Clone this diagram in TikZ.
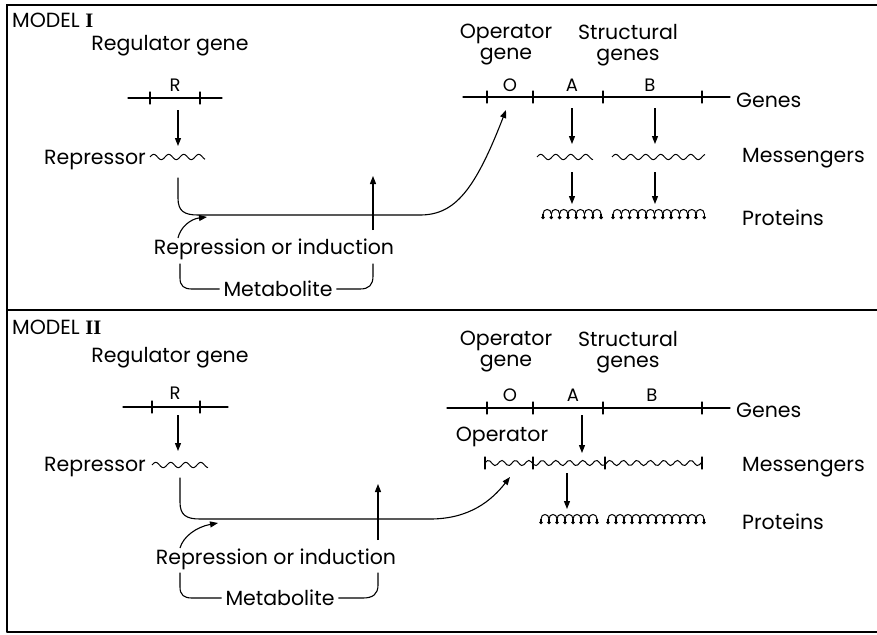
\documentclass[tikz,border=0pt]{standalone}
\usepackage{fontspec}
\setmainfont{Poppins}
\newfontfamily\romfont{Liberation Serif}
\usetikzlibrary{arrows.meta}
\tikzset{
  ln/.style={line width=1.1pt, line cap=round},
  thinln/.style={line width=1pt},
  arr/.style={line width=1.1pt, -{Triangle[length=8pt,width=6pt]}},
  lbl/.style={inner sep=0pt, font=\fontsize{20.5}{23}\selectfont},
  two/.style={inner sep=0pt, align=center, font=\fontsize{20.5}{21}\selectfont},
  let/.style={inner sep=0pt, font=\fontsize{18}{20}\selectfont},
}
% gene tick: x, y
\newcommand{\gtick}[2]{\draw[ln] (#1,{#2-6}) -- (#1,{#2+6});}
% wave: x1, x2, y, period
\newcommand{\mwave}[4]{\draw[thinln] plot[domain=#1:#2, samples=90, smooth] (\x,{#3-2.6*sin((\x-#1)/#4*360)});}
% protein: x1, y, n, w
\newcommand{\prot}[4]{%
  \foreach \k in {1,...,#3}{
    \draw[thinln] ({#1+(\k-1)*#4},#2) .. controls ({#1+(\k-1)*#4},{#2-6}) and ({#1+\k*#4},{#2-6}) .. ({#1+\k*#4},#2);
  }
  \foreach \k in {0,...,#3}{
    \draw[line width=1.6pt] ({#1+\k*#4},#2) -- ({#1+\k*#4},{#2+3});
    \fill ({#1+\k*#4},{#2+3.5}) circle (1.9);
  }
}
\begin{document}
\begin{tikzpicture}[x=1pt,y=-1pt]
\useasboundingbox (0,0) rectangle (877,634);
% frame
\draw[ln] (7,632) -- (7,5) -- (877,5);
\draw[ln] (7,310) -- (877,310);
\draw[ln] (7,632) -- (877,632);

% ================= MODEL I =================
\node[lbl, anchor=west] (m1) at (12,20) {MODEL {\romfont\bfseries I}};
\node[lbl] (reg1) at (170,46) {Regulator gene};
\draw[ln] (128,98) -- (222,98);
\gtick{150}{98}\gtick{200}{98}
\node[let] (R1) at (175,85) {R};
\coordinate (r1a) at (178,110);
\coordinate (w1a) at (178,146);
\draw[arr] (r1a) -- (w1a);
\node[lbl, anchor=east] (rep1) at (146,160) {Repressor};
\mwave{150}{205}{157}{15}
\coordinate (p1s) at (178,178);
\coordinate (op1) at (506,110);
\draw[ln, -{Triangle[length=8pt,width=6pt]}] (p1s) -- (178,198) .. controls (178,211) and (184,215) .. (198,215) -- (420,215) .. controls (455,215) and (475,190) .. (op1);
\coordinate (u1s) at (373,230);
\coordinate (u1e) at (373,176);
\draw[arr] (u1s) -- (u1e);
\coordinate (c1s) at (178,238);
\coordinate (c1e) at (207,217);
\draw[arr] (c1s) .. controls (180,228) and (190,219) .. (c1e);
\node[lbl] (ri1) at (274,249) {Repression or induction};
\node[lbl] (met1) at (278,289) {Metabolite};
\draw[ln] (180,264) -- (180,278) .. controls (180,286) and (184,289) .. (192,289) -- ([xshift=-4pt]met1.west);
\draw[ln] ([xshift=4pt]met1.east) -- (360,289) .. controls (369,289) and (373,285) .. (373,276) -- (373,264);

% right part I
\node[two] (opl1) at (506,45) {Operator\\gene};
\node[two] (str1) at (628,45) {Structural\\genes};
\draw[ln] (463,97) -- (730,97);
\gtick{487}{97}\gtick{533}{97}\gtick{603}{97}\gtick{702}{97}
\node[let] (O1) at (510,85) {O};
\node[let] (A1) at (572,85) {A};
\node[let] (B1) at (650,85) {B};
\node[lbl, anchor=west] (G1) at (736,100) {Genes};
\draw[arr] (572,108) -- (572,144);
\draw[arr] (655,108) -- (655,144);
\mwave{537}{593}{157}{15}
\mwave{612}{705}{157}{15}
\node[lbl, anchor=west] (M1) at (742,158) {Messengers};
\draw[arr] (572,172) -- (572,204);
\draw[arr] (655,172) -- (655,204);
\prot{543}{214}{7}{8.3}
\prot{613}{214}{11}{8.3}
\node[lbl, anchor=west] (P1) at (742,218) {Proteins};

% ================= MODEL II =================
\node[lbl, anchor=west] (m2) at (12,327) {MODEL {\romfont\bfseries II}};
\node[lbl] (reg2) at (170,358) {Regulator gene};
\draw[ln] (123,407) -- (228,407);
\gtick{152}{407}\gtick{200}{407}
\node[let] (R2) at (175,393) {R};
\coordinate (r2a) at (178,415);
\coordinate (w2a) at (178,451);
\draw[arr] (r2a) -- (w2a);
\node[lbl, anchor=east] (rep2) at (146,467) {Repressor};
\mwave{152}{208}{465}{15}
\coordinate (p2s) at (180,478);
\coordinate (op2) at (510,477);
\draw[ln, -{Triangle[length=8pt,width=6pt]}] (p2s) -- (180,502) .. controls (180,515) and (186,519) .. (200,519) -- (430,519) .. controls (470,519) and (492,500) .. (op2);
\coordinate (u2s) at (378,540);
\coordinate (u2e) at (378,484);
\draw[arr] (u2s) -- (u2e);
\coordinate (c2s) at (180,548);
\coordinate (c2e) at (218,523);
\draw[arr] (c2s) .. controls (183,537) and (196,527) .. (c2e);
\node[lbl] (ri2) at (276,559) {Repression or induction};
\node[lbl] (met2) at (280,598) {Metabolite};
\draw[ln] (180,573) -- (180,587) .. controls (180,595) and (184,598) .. (192,598) -- ([xshift=-4pt]met2.west);
\draw[ln] ([xshift=4pt]met2.east) -- (363,598) .. controls (373,598) and (378,594) .. (378,585) -- (378,573);

% right part II
\node[two] (opl2) at (506,352) {Operator\\gene};
\node[two] (str2) at (628,352) {Structural\\genes};
\draw[ln] (447,408) -- (730,408);
\gtick{487}{408}\gtick{533}{408}\gtick{603}{408}\gtick{702}{408}
\node[let] (O2) at (510,395) {O};
\node[let] (A2) at (573,395) {A};
\node[let] (B2) at (652,395) {B};
\node[lbl, anchor=west] (G2) at (736,410) {Genes};
\draw[arr] (582,415) -- (582,453);
\node[lbl] (opm2) at (502,437) {Operator};
\mwave{485}{702}{463}{13.5}
\gtick{485}{463}\gtick{533}{463}\gtick{605}{463}\gtick{702}{463}
\node[lbl, anchor=west] (M2) at (742,467) {Messengers};
\draw[arr] (567,473) -- (567,509);
\prot{541}{519}{7}{8}
\prot{608}{519}{12}{8}
\node[lbl, anchor=west] (P2) at (742,522) {Proteins};
\end{tikzpicture}
\end{document}
